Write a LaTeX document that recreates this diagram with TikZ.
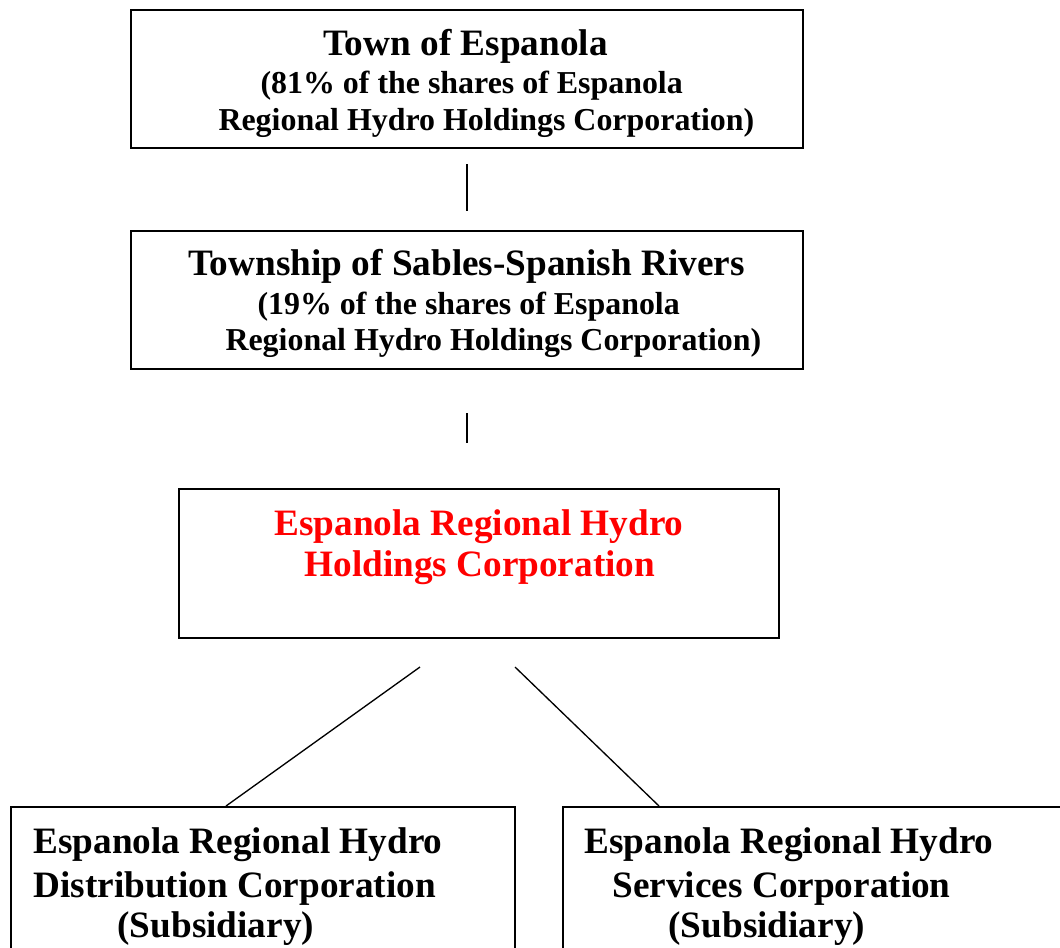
\documentclass[tikz,border=0pt]{standalone}
\usepackage{fontspec}
\setmainfont{Liberation Serif}
\usetikzlibrary{positioning}
\newcommand{\pxl}{0.376pt}

\begin{document}
\begin{tikzpicture}[
    x=0.376pt, y=-0.376pt,
    orgbox/.style={rectangle, draw, line width=0.75pt, inner sep=0pt},
    title/.style={anchor=base west, inner sep=0pt, font=\fontsize{14}{16}\selectfont\bfseries},
    share/.style={anchor=base west, inner sep=0pt, font=\fontsize{12}{14}\selectfont\bfseries},
    holding/.style={title, text=red},
    link/.style={line width=0.75pt},
    branch/.style={line width=0.5pt}
]
\useasboundingbox (0,0) rectangle (1060,947);

% Owners
\node[orgbox, minimum width=672*\pxl, minimum height=138*\pxl] (town) at (467,79) {};
\node[title] (townname) at (323,55) {Town of Espanola};
\node[share] (townshareA) at (260,93) {(81\% of the shares of Espanola};
\node[share] (townshareB) at (218,130) {Regional Hydro Holdings Corporation)};

\node[orgbox, minimum width=672*\pxl, minimum height=138*\pxl] (township) at (467,300) {};
\node[title] (townshipname) at (188,275) {Township of Sables-Spanish Rivers};
\node[share] (townshipshareA) at (257,314) {(19\% of the shares of Espanola};
\node[share] (townshipshareB) at (225,350) {Regional Hydro Holdings Corporation)};

% Holding company
\node[orgbox, minimum width=600*\pxl, minimum height=149*\pxl] (holdco) at (479,563.5) {};
\node[holding] (holdnameA) at (274,535) {Espanola Regional Hydro};
\node[holding] (holdnameB) at (304,576) {Holdings Corporation};

% Subsidiaries
\node[orgbox, minimum width=504*\pxl, minimum height=183*\pxl] (distr) at (263,898.5) {};
\node[title] (distrA) at (33,853) {Espanola Regional Hydro};
\node[title] (distrB) at (33,897) {Distribution Corporation};
\node[title] (distrC) at (117,937) {(Subsidiary)};

\node[orgbox, minimum width=537*\pxl, minimum height=183*\pxl] (serv) at (831.5,898.5) {};
\node[title] (servA) at (584,853) {Espanola Regional Hydro};
\node[title] (servB) at (612,897) {Services Corporation};
\node[title] (servC) at (668,937) {(Subsidiary)};

% Connectors
\coordinate (forkL) at (420,667);
\coordinate (forkR) at (515,667);
\draw[link, shorten <=15*\pxl, shorten >=19*\pxl] (town) -- (township);
\draw[link, shorten <=43*\pxl, shorten >=45*\pxl] (township.south) -- (township.south |- holdco.north);
\draw[branch] (forkL) -- ([xshift=216*\pxl]distr.north west);
\draw[branch] (forkR) -- ([xshift=97*\pxl]serv.north west);

\end{tikzpicture}
\end{document}
